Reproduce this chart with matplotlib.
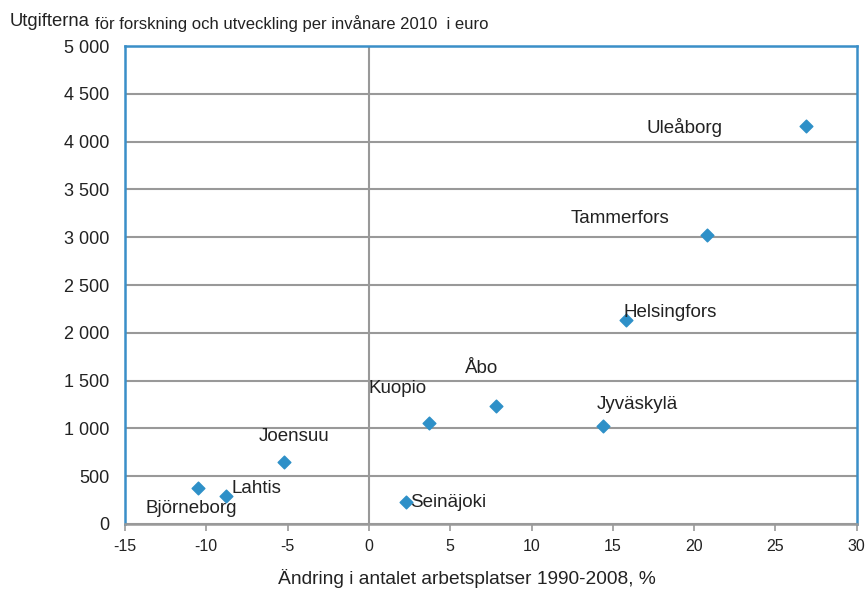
import matplotlib.pyplot as plt
from matplotlib.ticker import FuncFormatter

plt.rcParams['font.family'] = ['Liberation Sans', 'DejaVu Sans']
plt.rcParams['axes.unicode_minus'] = False

# städer, förändring i arbetsplatser (%) och FoU-utgifter per invånare (euro)
cities = ['Uleåborg', 'Tammerfors', 'Helsingfors', 'Åbo', 'Kuopio',
          'Jyväskylä', 'Joensuu', 'Björneborg', 'Lahtis', 'Seinäjoki']
change = [26.9, 20.8, 15.8, 7.8, 3.7, 14.4, -5.2, -10.5, -8.8, 2.3]
spend = [4160, 3020, 2130, 1235, 1055, 1030, 650, 380, 295, 225]

# etikettplacering (offset i punkter, ha)
offsets = {
    'Uleåborg': (-88, -1, 'center'),
    'Tammerfors': (-63, 12, 'center'),
    'Helsingfors': (-2, 6, 'left'),
    'Åbo': (-10, 27, 'center'),
    'Kuopio': (-23, 25, 'center'),
    'Jyväskylä': (25, 15, 'center'),
    'Joensuu': (7, 18, 'center'),
    'Björneborg': (-5, -15, 'center'),
    'Lahtis': (4, 5, 'left'),
    'Seinäjoki': (3, 0, 'left'),
}

fig = plt.figure(figsize=(8.68, 5.92), dpi=100)
ax = fig.add_axes([0.144, 0.115, 0.843, 0.807])

ax.scatter(change, spend, marker='D', s=42, color='#2e90c8', zorder=3)

for name, x, y in zip(cities, change, spend):
    dx, dy, ha = offsets[name]
    ax.annotate(name, (x, y), xytext=(dx, dy), textcoords='offset points',
                ha=ha, va='center', fontsize=13.5, color='#222222')

ax.set_xlim(-15, 30)
ax.set_ylim(0, 5000)
ax.set_xticks(range(-15, 31, 5))
ax.set_yticks(range(0, 5001, 500))
ax.yaxis.set_major_formatter(FuncFormatter(lambda v, p: f'{int(v):,}'.replace(',', ' ')))

# rutnät och nollinje
ax.grid(axis='y', color='#999999', linewidth=1.5)
ax.axvline(0, color='#999999', linewidth=1.5, zorder=1)
ax.set_axisbelow(True)

for side in ['left', 'top', 'right']:
    ax.spines[side].set_color('#3a8fc8')
    ax.spines[side].set_linewidth(1.8)
ax.spines['bottom'].set_color('#999999')
ax.spines['bottom'].set_linewidth(1.8)

ax.tick_params(axis='y', length=0, pad=11, labelsize=13, colors='#222222')
ax.tick_params(axis='x', length=5, width=1.2, color='#999999', pad=6,
               labelsize=11.5, labelcolor='#222222')

fig.text(0.538, 0.022, 'Ändring i antalet arbetsplatser 1990-2008, %',
         fontsize=13.8, color='#222222', ha='center', va='center')

fig.text(0.011, 0.963, 'Utgifterna', fontsize=13.3, color='#222222', va='center')
fig.text(0.110, 0.961, 'för forskning och utveckling per invånare 2010  i euro',
         fontsize=12, color='#222222', va='center')

fig.savefig('out.png', dpi=100)
